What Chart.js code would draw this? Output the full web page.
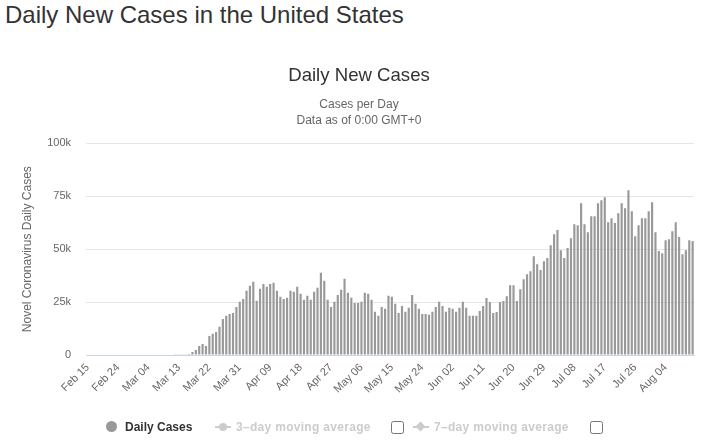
<html>
<head>
<meta charset="utf-8">
<script src="https://cdn.jsdelivr.net/npm/chart.js@4.4.1/dist/chart.umd.min.js"></script>
<style>
body { margin:0; background:#fff; font-family:"Liberation Sans", Arial, sans-serif; }
#wrap { position:relative; width:708px; height:442px; overflow:hidden; }
#pagetitle { position:absolute; left:5px; top:3px; font-size:24px; line-height:24px; color:#333; white-space:nowrap; }
#cv { position:absolute; left:0; top:0; }
.leg { position:absolute; top:420px; font-size:12px; font-weight:bold; white-space:nowrap; line-height:14px; }
.off { color:#cccccc; letter-spacing:0.3px; }
.chk { position:absolute; top:421px; margin:0; width:13px; height:13px; }
</style>
</head>
<body>
<div id="wrap">
<div id="pagetitle">Daily New Cases in the United States</div>
<canvas id="cv" width="708" height="442"></canvas>

<!-- legend, like the highcharts one -->
<div class="leg" style="left:106px;"><span style="display:inline-block;width:11px;height:11px;border-radius:6px;background:#999;vertical-align:-1px;margin-right:8px;"></span><span style="color:#333">Daily Cases</span></div>
<div class="leg off" style="left:215px;"><span style="display:inline-block;position:relative;width:16px;height:10px;margin-right:5px;"><span style="position:absolute;left:0;top:5px;width:16px;height:2px;background:#ccc;"></span><span style="position:absolute;left:4px;top:2px;width:8px;height:8px;border-radius:4px;background:#ccc;"></span></span>3–day moving average</div>
<input type="checkbox" class="chk" style="left:391px;">
<div class="leg off" style="left:413px;"><span style="display:inline-block;position:relative;width:16px;height:10px;margin-right:5px;"><span style="position:absolute;left:0;top:5px;width:16px;height:2px;background:#ccc;"></span><span style="position:absolute;left:4px;top:2px;width:7px;height:7px;background:#ccc;transform:rotate(45deg);"></span></span>7–day moving average</div>
<input type="checkbox" class="chk" style="left:590px;">
</div>

<script>
// first day of the series, one bar per day
var startDay = new Date(Date.UTC(2020, 1, 15));
var monthNames = ["Jan","Feb","Mar","Apr","May","Jun","Jul","Aug","Sep","Oct","Nov","Dec"];

// tick labels shown on the x axis (every 9th day)
var tickLabels = ["Feb 15","Feb 24","Mar 04","Mar 13","Mar 22","Mar 31","Apr 09","Apr 18","Apr 27","May 06",
                  "May 15","May 24","Jun 02","Jun 11","Jun 20","Jun 29","Jul 08","Jul 17","Jul 26","Aug 04"];

// daily new cases, Feb 15 .. Aug 12
var febCases = [0,0,0,0,0,0,0,0,0,0,0,0,0,0,0];                       // Feb 15-29
var marCases = [0,0,0,0,0,0,0,0,0,0,0,60,90,130,300,450,
                1400,2400,4300,5200,4300,9000,10000,10900,13300,17000,18500,19400,19900,22700,25100]; // Mar 1-31
var aprCases = [26500,30300,32700,34600,25600,31300,33600,32200,33600,34100,30300,27500,26500,27000,30300,
                29900,32200,28900,26100,28000,26100,29900,31800,38900,35100,26100,22700,25100,28400,30800];
var mayCases = [36000,29400,27000,24600,24600,25100,29400,28900,26100,20400,18500,22700,21800,28000,27500,
                24200,19900,23200,20400,22300,28400,24200,21800,19400,19400,19000,20400,22700,25100,23200,20400];
var junCases = [22300,21800,20400,22300,25100,22300,18500,18500,18500,20800,23100,26900,25000,19800,20300,
                25000,25500,27800,33000,33000,25500,31100,35800,38200,39600,46700,42900,40100,44300,45800];
var julCases = [51900,57100,59000,49500,45800,50500,55200,61800,61300,71700,61800,58000,65600,65600,71700,
                73100,74500,62700,64600,62300,67000,71700,69300,77800,67900,56100,61300,64600,64600,67900,72200];
var augCases = [58000,49100,48100,54200,54700,58500,62700,55700,47600,49500,54200,53800];

var dailyCases = febCases.concat(marCases, aprCases, mayCases, junCases, julCases, augCases);

var categories = [];
for (var i = 0; i < dailyCases.length; i++) {
  var d = new Date(startDay.getTime() + i*86400000);
  var dd = d.getUTCDate();
  categories.push(monthNames[d.getUTCMonth()] + " " + (dd < 10 ? "0"+dd : dd));
}

var yTicks = [0, 25000, 50000, 75000, 100000];

Chart.defaults.font.family = '"Liberation Sans", Arial, sans-serif';

new Chart(document.getElementById("cv"), {
  type: "bar",
  data: {
    labels: categories,
    datasets: [{
      label: "Daily Cases",
      data: dailyCases,
      backgroundColor: "#999999",
      borderWidth: 0,
      barPercentage: 0.64,
      categoryPercentage: 1.0
    }]
  },
  options: {
    responsive: false,
    animation: false,
    devicePixelRatio: 1,
    layout: { padding: { left: 20, right: 10, top: 50, bottom: 32 } },
    plugins: {
      legend: { display: false },
      tooltip: { enabled: false },
      title: {
        display: true,
        text: "Daily New Cases",
        color: "#333333",
        font: { size: 18.6, weight: "normal" },
        padding: { top: 15, bottom: 9 }
      },
      subtitle: {
        display: true,
        text: ["Cases per Day", "Data as of 0:00 GMT+0"],
        color: "#666666",
        font: { size: 12, lineHeight: 1.3333 },
        padding: { top: 0, bottom: 15 }
      }
    },
    scales: {
      x: {
        grid: { display: false, drawTicks: false },
        border: { display: true, color: "#ccd6eb", width: 1 },
        afterFit: function(scale) { scale.height = 55; },
        ticks: {
          autoSkip: false,
          minRotation: 45,
          maxRotation: 45,
          padding: 6,
          color: "#666666",
          font: { size: 11 },
          callback: function(val, idx) {
            return tickLabels.indexOf(categories[idx]) >= 0 ? categories[idx] : "";
          }
        }
      },
      y: {
        min: 0,
        max: 100000,
        afterFit: function(scale) { scale.width = 66; },
        afterBuildTicks: function(scale) { scale.ticks = yTicks.map(function(v){ return {value: v}; }); },
        grid: { color: "#e6e6e6", lineWidth: 1, drawTicks: false },
        border: { display: false },
        title: {
          display: true,
          text: "Novel Coronavirus Daily Cases",
          color: "#666666",
          font: { size: 12 },
          padding: 0
        },
        ticks: {
          padding: 15,
          color: "#666666",
          font: { size: 11 },
          callback: function(v) { return v === 0 ? "0" : (v/1000) + "k"; }
        }
      }
    }
  }
});
</script>
</body>
</html>
